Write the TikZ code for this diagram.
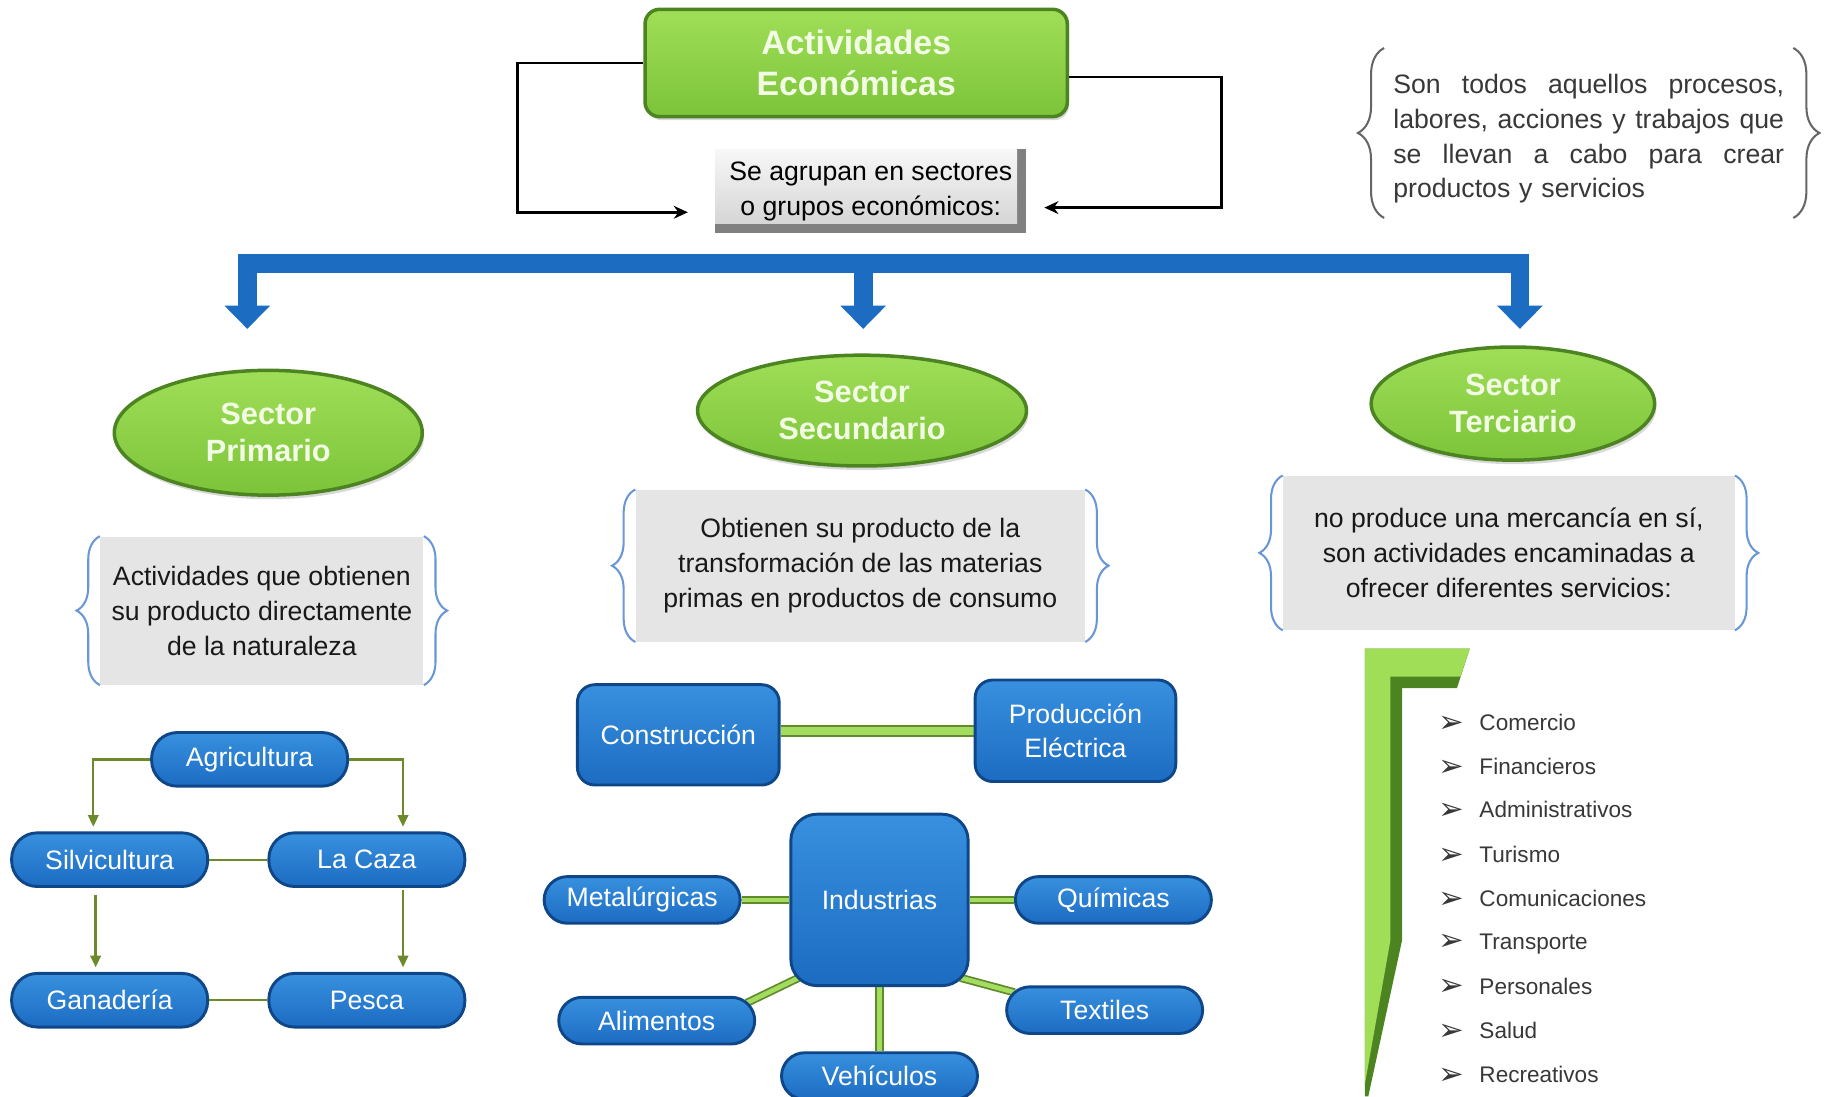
\documentclass[tikz,border=0pt]{standalone}
\usepackage{fontspec}
\setmainfont{Liberation Sans}
\newfontfamily\bulfont{DejaVu Sans}
\usetikzlibrary{arrows.meta, positioning, calc}
\usetikzlibrary{shapes.geometric, decorations.pathreplacing, shadows}
\usetikzlibrary{backgrounds}
\usepackage{xcolor}
\definecolor{grnlight}{RGB}{160,222,88}
\definecolor{grnmid}{RGB}{124,196,58}
\definecolor{grndark}{RGB}{76,132,34}
\definecolor{grntext}{RGB}{242,252,228}
\definecolor{bluelight}{RGB}{56,144,222}
\definecolor{bluemid}{RGB}{28,108,194}
\definecolor{bluedark}{RGB}{14,70,136}
\definecolor{bracecol}{RGB}{104,150,214}
\definecolor{linkdark}{RGB}{96,138,44}
\definecolor{linklight}{RGB}{164,220,96}
\definecolor{arrowgrn}{RGB}{108,138,44}
\definecolor{txtgray}{RGB}{56,56,56}
\newcommand{\setfs}[2]{\fontsize{#1}{#2}\selectfont}
\newcommand{\servbul}{\makebox[7mm][l]{\raisebox{-0.3mm}{\bulfont\setfs{15}{15}➢}}}
\newcommand{\fullline}[1]{\leavevmode\hbox to 67mm{#1}}

\begin{document}
\begin{tikzpicture}[x=0.2mm, y=-0.2mm,
  titlenode/.style={rectangle, rounded corners=2.5mm, draw=grndark, line width=0.6mm, top color=grnlight, bottom color=grnmid, text=grntext, font=\bfseries\setfs{16.5}{20.4}, align=center, minimum width=72.4mm, minimum height=18.4mm, inner sep=0pt, drop shadow={opacity=0.3, shadow xshift=0.3mm, shadow yshift=-0.6mm}},
  agrupnode/.style={fill=black!50, text=black, font=\setfs{13}{17}, align=center, minimum width=53.4mm, minimum height=14.4mm, inner sep=0pt, path picture={\shade[top color=black!3, bottom color=black!18] (path picture bounding box.north west) rectangle ([shift={(-8,-8)}]path picture bounding box.south east);}},
  defnode/.style={text=txtgray, font=\setfs{13}{17}, align=left, text width=67mm, minimum height=29mm, inner xsep=1.5mm, inner ysep=0pt},
  secnode/.style={ellipse, draw=grndark, line width=0.6mm, top color=grnlight, bottom color=grnmid, text=grntext, font=\bfseries\setfs{15}{18}, align=center, inner sep=0pt, drop shadow={opacity=0.3, shadow xshift=0.3mm, shadow yshift=-0.7mm}},
  descnode/.style={fill=black!10, text=black!90, font=\setfs{13}{17}, align=center, inner sep=0pt},
  pillnode/.style={rectangle, rounded corners=4.4mm, draw=bluedark, line width=0.5mm, top color=bluelight, bottom color=bluemid, text=white, font=\setfs{13}{16}, minimum width=33.6mm, minimum height=9.2mm, inner sep=0pt},
  smallpill/.style={pillnode, rounded corners=4mm, minimum height=8mm},
  boxnode/.style={rectangle, rounded corners=3mm, draw=bluedark, line width=0.5mm, top color=bluelight, bottom color=bluemid, text=white, font=\setfs{13}{17}, align=center, inner sep=0pt},
  servnode/.style={anchor=west, text=txtgray, font=\setfs{11}{13}, inner sep=0pt},
  blkarrow/.style={draw=black, line width=0.5mm, ->, >={Stealth[length=2.4mm, width=2.2mm]}},
  bluebar/.style={draw=bluemid, line width=3.2mm, line join=miter, >={Triangle[length=4mm, width=7.6mm]}},
  bluebrace/.style={decorate, decoration={brace, amplitude=4mm}, draw=bracecol, line width=0.35mm},
  graybrace/.style={decorate, decoration={brace, amplitude=4.5mm}, draw=black!60, line width=0.35mm},
  agriarrow/.style={draw=arrowgrn, line width=0.4mm, ->, >={Triangle[length=2mm, width=1.8mm]}},
  agriline/.style={draw=arrowgrn, line width=0.4mm},
  conslink/.style={draw=linkdark, line width=0.35mm, double=linklight, double distance=1.3mm},
  indlink/.style={draw=linkdark, line width=0.3mm, double=linklight, double distance=0.8mm},
]

    \useasboundingbox (0,0) rectangle (1568,940);
    \begin{scope}[on background layer]
        \fill[white] (0,0) rectangle (1568,940);
    \end{scope}

    \node[titlenode] (actec) at (734,54) {Actividades\\Económicas};
    \node[agrupnode] (agrup) at (746.5,164) {Se agrupan en sectores\\o grupos económicos:};

    \draw[blkarrow] (actec.west) -- ++(-108,0) |- ($(agrup.west)+(-23,18)$);
    \draw[blkarrow] ($(actec.east)+(0,12)$) -- ++(131,0) |- ($(agrup.east)+(15,14)$);

    \node[defnode] (defin) at (1362,119) {\fullline{Son\hfill todos\hfill aquellos\hfill procesos,}\\\fullline{labores,\hfill acciones\hfill y\hfill trabajos\hfill que}\\\fullline{se\hfill llevan\hfill a\hfill cabo\hfill para\hfill crear}\\productos y servicios};
    \draw[graybrace] ([yshift=1mm]defin.south west) -- ([yshift=1mm]defin.north west);
    \draw[graybrace] ([yshift=1mm]defin.north east) -- ([yshift=1mm]defin.south east);

    \coordinate (barl) at (212,226);
    \coordinate (barm) at (740,226);
    \coordinate (barr) at (1303,226);
    \coordinate (tipl) at (212,282);
    \coordinate (tipm) at (740,282);
    \coordinate (tipr) at (1303,282);
    \draw[bluebar, <->] (tipl) -- (barl) -- (barr) -- (tipr);
    \draw[bluebar, ->] (barm) -- (tipm);

    \node[secnode, minimum width=52.8mm, minimum height=21.4mm] (sprim) at (230,371) {Sector\\Primario};
    \node[secnode, minimum width=56.4mm, minimum height=19mm] (ssec) at (739,352) {Sector\\Secundario};
    \node[secnode, minimum width=48.6mm, minimum height=19.4mm] (ster) at (1297,346) {Sector\\Terciario};

    \node[descnode, minimum width=55.4mm, minimum height=25.4mm] (dprim) at (224.5,523.5) {Actividades que obtienen\\su producto directamente\\de la naturaleza};
    \draw[bluebrace] (dprim.south west) -- (dprim.north west);
    \draw[bluebrace] (dprim.north east) -- (dprim.south east);

    \node[descnode, minimum width=77mm, minimum height=26mm] (dsec) at (737.5,485) {Obtienen su producto de la\\transformación de las materias\\primas en productos de consumo};
    \draw[bluebrace] (dsec.south west) -- (dsec.north west);
    \draw[bluebrace] (dsec.north east) -- (dsec.south east);

    \node[descnode, minimum width=77.4mm, minimum height=26.4mm] (dter) at (1293.5,474) {no produce una mercancía en sí,\\son actividades encaminadas a\\ofrecer diferentes servicios:};
    \draw[bluebrace] (dter.south west) -- (dter.north west);
    \draw[bluebrace] (dter.north east) -- (dter.south east);

    \node[pillnode] (agri) at (214,651) {Agricultura};
    \node[pillnode] (silvi) at (94,737) {Silvicultura};
    \node[pillnode, right=10mm of silvi] (caza) {La Caza};
    \node[pillnode, below=14.4mm of silvi] (gana) {Ganadería};
    \node[pillnode, below=14.4mm of caza] (pesca) {Pesca};

    \draw[agriarrow] (agri.west) -| ($(silvi.north)+(-14,-4)$);
    \draw[agriarrow] (agri.east) -| ($(caza.north)+(31,-4)$);
    \draw[agriline] (silvi) -- (caza);
    \draw[agriarrow] ($(silvi.south)+(-12,6)$) -- ($(gana.north)+(-12,-4)$);
    \draw[agriarrow] ($(caza.south)+(31,2)$) -- ($(pesca.north)+(31,-4)$);
    \draw[agriline] (gana) -- (pesca);

    \node[boxnode, minimum width=34.6mm, minimum height=17.2mm] (cons) at (581.5,630) {Construcción};
    \node[boxnode, minimum width=34.4mm, minimum height=17.4mm] (prod) at (922,626.5) {Producción\\Eléctrica};
    \node[boxnode, rounded corners=4.5mm, minimum width=30.4mm, minimum height=29.4mm] (indus) at (754,771.5) {Industrias};

    \node[smallpill, left=8.2mm of indus] (metal) {Metalúrgicas};
    \node[smallpill, right=7.6mm of indus] (quim) {Químicas};
    \node[smallpill] (alim) at (563,875) {Alimentos};
    \node[smallpill] (texti) at (947,866) {Textiles};
    \node[smallpill, below=11mm of indus] (vehi) {Vehículos};

    \begin{scope}[on background layer]
        \draw[conslink] (cons.east |- prod) -- (prod.west);
        \draw[indlink] (metal) -- (indus);
        \draw[indlink] (indus) -- (quim);
        \draw[indlink] ([shift={(8,-8)}]indus.south west) -- ([shift={(-8,6)}]alim.north east);
        \draw[indlink] ([shift={(-8,-8)}]indus.south east) -- ([shift={(8,6)}]texti.north west);
        \draw[indlink] (indus) -- (vehi);
    \end{scope}

    \fill[grndark] (1170,556) -- (1260,556) -- (1249,590) -- (1202,590) -- (1202,806) -- (1173,940) -- (1170,940) -- cycle;
    \fill[grnlight] (1170,556) -- (1260,556) -- (1252,580) -- (1192,580) -- (1192,806) -- (1170,930) -- cycle;

    \node[servnode] (serv1) at (1233,620) {\servbul Comercio};
    \node[servnode] (serv2) at (1233,658) {\servbul Financieros};
    \node[servnode] (serv3) at (1233,695) {\servbul Administrativos};
    \node[servnode] (serv4) at (1233,733) {\servbul Turismo};
    \node[servnode] (serv5) at (1233,771) {\servbul Comunicaciones};
    \node[servnode] (serv6) at (1233,809) {\servbul Transporte};
    \node[servnode] (serv7) at (1233,846) {\servbul Personales};
    \node[servnode] (serv8) at (1233,884) {\servbul Salud};
    \node[servnode] (serv9) at (1233,922) {\servbul Recreativos};

\end{tikzpicture}
\end{document}
